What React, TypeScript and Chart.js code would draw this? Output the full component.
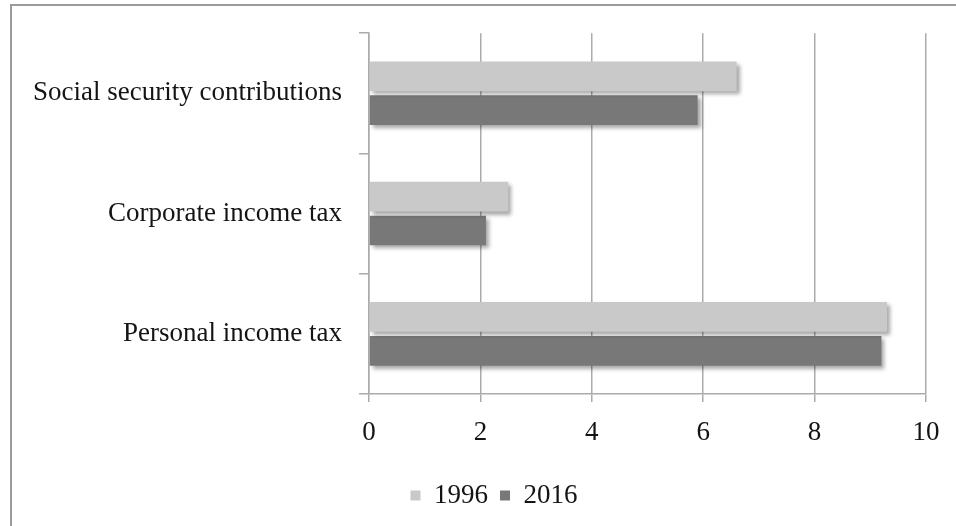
import { useEffect, useRef } from 'react';
import { Chart, registerables } from 'chart.js';

Chart.register(...registerables);

const categories = ['Social security contributions', 'Corporate income tax', 'Personal income tax'];
const seriesNames = ['1996', '2016'];
const values1996 = [6.6, 2.5, 9.3];
const values2016 = [5.9, 2.1, 9.2];
const xMin = 0;
const xMax = 10;
const xStep = 2;

const FONT = "'Liberation Serif', 'Times New Roman', serif";
const TEXT = '#141414';

const framePlugin = {
  id: 'frame',
  beforeDraw(chart: any) {
    const ctx = chart.ctx;
    ctx.save();
    ctx.strokeStyle = '#9c9c9c';
    ctx.lineWidth = 2;
    ctx.strokeRect(11, 5, 2000, 2000);
    ctx.restore();
  },
};

// centre the legend under the plot area rather than the whole canvas
const legendShiftPlugin = {
  id: 'legendShift',
  afterLayout(chart: any) {
    const lg = chart.legend;
    if (!lg) return;
    const shift = 31;
    lg.left += shift;
    lg.right += shift;
  },
};

const shadowPlugin = {
  id: 'barShadow',
  beforeDatasetsDraw(chart: any) {
    const ctx = chart.ctx;
    ctx.save();
    ctx.shadowColor = 'rgba(0,0,0,0.35)';
    ctx.shadowBlur = 4;
    ctx.shadowOffsetX = 3;
    ctx.shadowOffsetY = 3;
  },
  afterDatasetsDraw(chart: any) {
    chart.ctx.restore();
  },
};

export default function App() {
  const ref = useRef<HTMLCanvasElement>(null);

  useEffect(() => {
    if (!ref.current) return;
    const chart = new Chart(ref.current, {
      type: 'bar',
      data: {
        labels: categories,
        datasets: [
          {
            label: seriesNames[0],
            data: values1996,
            backgroundColor: '#c9c9c9',
            borderWidth: 0,
            categoryPercentage: 0.562,
            barPercentage: 0.88,
          },
          {
            label: seriesNames[1],
            data: values2016,
            backgroundColor: '#787878',
            borderWidth: 0,
            categoryPercentage: 0.562,
            barPercentage: 0.88,
          },
        ],
      },
      options: {
        indexAxis: 'y',
        animation: false,
        responsive: false,
        layout: { padding: { top: 31, right: 30, bottom: 7, left: 0 } },
        plugins: {
          tooltip: { enabled: false },
          legend: {
            position: 'bottom',
            labels: {
              boxWidth: 10,
              boxHeight: 10,
              padding: 12,
              color: TEXT,
              font: { family: FONT, size: 27 },
            },
          },
        },
        scales: {
          x: {
            min: xMin,
            max: xMax,
            ticks: {
              stepSize: xStep,
              color: TEXT,
              padding: 15,
              font: { family: FONT, size: 27 },
              maxRotation: 0,
            },
            grid: {
              color: '#ababab',
              lineWidth: 1.5,
              drawTicks: true,
              tickLength: 8,
            },
            border: { display: true, color: '#ababab', width: 1.5 },
            afterFit(scale: any) {
              scale.height = 76;
            },
          },
          y: {
            ticks: {
              color: TEXT,
              padding: 17,
              font: { family: FONT, size: 27 },
            },
            grid: {
              drawOnChartArea: false,
              drawTicks: true,
              tickLength: 10,
              color: '#ababab',
              lineWidth: 1.5,
            },
            border: { display: true, color: '#ababab', width: 1.5 },
            afterFit(scale: any) {
              scale.width = 369;
            },
          },
        },
      },
      plugins: [framePlugin, legendShiftPlugin, shadowPlugin],
    });
    return () => chart.destroy();
  }, []);

  return (
    <div style={{ position: 'absolute', left: 0, top: 0, width: 956, height: 526, background: '#fff' }}>
      <canvas ref={ref} width={956} height={526} style={{ display: 'block' }} />
    </div>
  );
}
